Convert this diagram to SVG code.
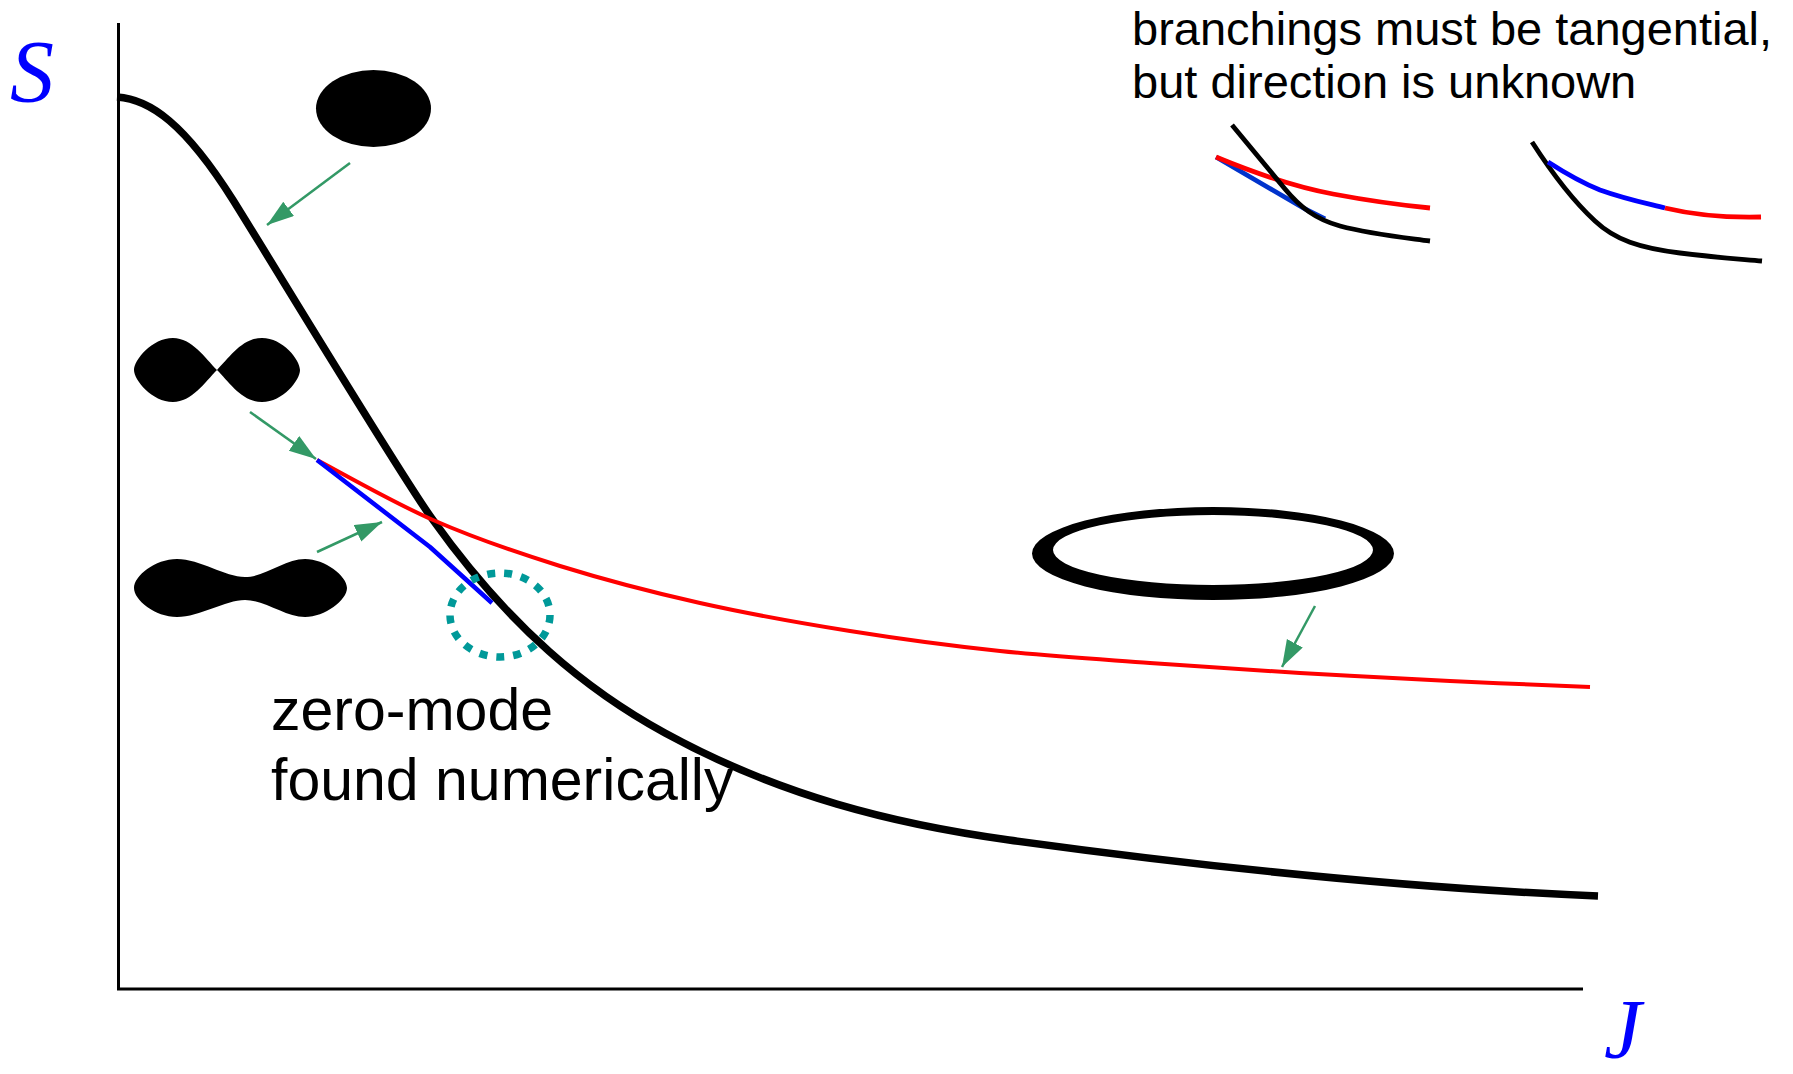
<svg xmlns="http://www.w3.org/2000/svg" width="1793" height="1074" viewBox="0 0 1793 1074">
<style>
.axis{stroke:#000;stroke-width:3;fill:none}
.main{stroke:#000;stroke-width:7.5;fill:none;stroke-linecap:butt}
.red{stroke:#ff0000;stroke-width:4;fill:none}
.blue{stroke:#0000ff;stroke-width:4.5;fill:none;stroke-linejoin:round}
.mini{stroke-width:4.8;fill:none}
.arrow{stroke:#339966;stroke-width:2.5;fill:none;marker-end:url(#ah)}
.lbl{font-family:"Liberation Serif","Times New Roman",serif;font-style:italic;fill:#0000ff}
.txt{font-family:"Liberation Sans",Arial,sans-serif;fill:#000}
.shape{fill:#000}
</style>
<defs>
<marker id="ah" markerUnits="userSpaceOnUse" markerWidth="28" markerHeight="20" refX="27" refY="9" orient="auto">
<path d="M0,0 L27,9 L0,18 Z" fill="#339966"/>
</marker>
</defs>
<rect width="1793" height="1074" fill="#fff"/>
<g id="axes">
<line class="axis" x1="118.5" y1="23" x2="118.5" y2="990"/>
<line class="axis" x1="117" y1="989" x2="1583" y2="989"/>
<text class="lbl" x="10" y="101" font-size="88">S</text>
<text class="lbl" x="1604" y="1058" font-size="84">J</text>
</g>
<g id="curves">
<path class="main" d="M117,97 C150,99 185,124 233,200 C273,264 403,479 433,520 C510,628 588,691 665,733 C780,796 894,824 1009,840 C1205,867 1402,888 1598,896"/>
<path class="red" d="M317,460 C336.3,470 392.5,502.3 433,520 C473.5,537.7 515.5,552.2 560,566 C604.5,579.8 651.7,592.2 700,603 C748.3,613.8 800,623 850,631 C900,639 950,645.7 1000,651 C1050,656.3 1100,659.3 1150,663 C1200,666.7 1250,670 1300,673 C1350,676 1401.7,678.7 1450,681 C1498.3,683.3 1566.7,686 1590,687"/>
<polyline class="blue" points="317,460 430,547 492,603"/>
</g>
<g id="zero-mode">
<ellipse cx="500" cy="615" rx="50" ry="42" fill="none" stroke="#009999" stroke-width="7.5" stroke-dasharray="8 9"/>
<text class="txt" x="271" y="730" font-size="59">zero-mode</text>
<text class="txt" x="271" y="800" font-size="59">found numerically</text>
</g>
<g id="ball">
<ellipse class="shape" cx="373.5" cy="108.5" rx="57.5" ry="38.5"/>
</g>
<g id="figure8">
<path class="shape" d="M217,370 C205,358 192,338 173,338 C152,338 134,360 134,370 C134,380 152,402 173,402 C192,402 205,382 217,370 C229,358 242,338 262,338 C283,338 300,360 300,370 C300,380 283,402 262,402 C242,402 229,382 217,370 Z"/>
</g>
<g id="dumbbell">
<path class="shape" d="M134,588 C134,576 155,559 177,559 C200,559 225,577 245,577 C265,577 285,559 305,559 C325,559 347,576 347,588 C347,600 325,617 305,617 C285,617 265,600 245,600 C225,600 200,617 177,617 C155,617 134,600 134,588 Z"/>
</g>
<g id="ring">
<path class="shape" fill-rule="evenodd" d="M1032,553.5 A181,46.5 0 1 0 1394,553.5 A181,46.5 0 1 0 1032,553.5 Z M1053,550 A160,35 0 1 0 1373,550 A160,35 0 1 0 1053,550 Z"/>
</g>
<g id="connectors">
<line class="arrow" x1="350" y1="163" x2="267" y2="225"/>
<line class="arrow" x1="250" y1="412" x2="316" y2="459"/>
<line class="arrow" x1="317" y1="552" x2="382" y2="522"/>
<line class="arrow" x1="1315" y1="606" x2="1282" y2="667"/>
</g>
<g id="note">
<text class="txt" x="1132" y="45" font-size="47">branchings must be tangential,</text>
<text class="txt" x="1132" y="98" font-size="47">but direction is unknown</text>
</g>
<g id="mini-left">
<path class="mini" stroke="#0033cc" d="M1216,157 L1305,209 L1325,219"/>
<path class="mini" stroke="#ff0000" d="M1216,157 C1245,169 1290,186 1333,194 C1370,201 1400,205 1430,208"/>
<path class="mini" stroke="#000" d="M1232,125 L1285,189 C1300,207 1315,219 1340,226 C1370,234 1400,237 1430,241"/>
</g>
<g id="mini-right">
<path class="mini" stroke="#000" d="M1532,142 C1550,170 1570,198 1595,221 C1615,240 1640,248 1680,253 C1720,258 1740,259 1762,261"/>
<path class="mini" stroke="#0000ff" d="M1548,162 C1565,173 1580,182 1600,190 C1625,199 1645,203 1665,208"/>
<path class="mini" stroke="#ff0000" d="M1665,208 C1690,214 1720,218 1761,217"/>
</g>
</svg>
